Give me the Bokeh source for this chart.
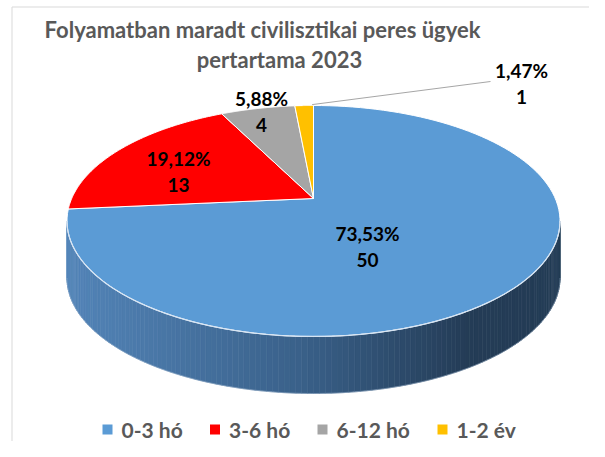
import numpy as np
from bokeh.plotting import figure
from bokeh.models import Range1d
from bokeh.core.properties import value
from bokeh.embed import file_html
from bokeh.resources import INLINE

# ---------------- data ----------------
categories = ["0-3 hó", "3-6 hó", "6-12 hó", "1-2 év"]
counts = [50, 13, 4, 1]
percent_labels = ["73,53%", "19,12%", "5,88%", "1,47%"]
colors = ["#5b9bd5", "#ff0000", "#a5a5a5", "#ffc000"]
title_lines = ["Folyamatban maradt civilisztikai peres ügyek", "pertartama 2023"]

# ---------------- layout ----------------
W, H = 589, 441
CX, CY = 313.0, 198.0          # projected pie centre (px)
A, B, K = 241.8, 111.1, 0.1948  # perspective ellipse parameters
DEPTH = 57.0
FONT = value("Lato")
label_pos = [(367, 233), (178, 158), (261, 98), (521, 70)]
LINE_GAP = 26
legend_x = [107, 214.5, 322, 442]
LEGEND_Y = 429
title_pos = [(262, 29), (279, 59)]


def proj(theta, r=1.0, dy=0.0):
    u = r * np.sin(theta)
    v = r * np.cos(theta)
    s = 1.0 / (1.0 + K * v)
    return CX + A * u * s, CY - B * v * s + dy


p = figure(width=W, height=H, output_backend="svg", toolbar_location=None,
           x_range=Range1d(0, W), y_range=Range1d(H, 0),
           min_border=0, outline_line_color=None)
p.axis.visible = False
p.grid.visible = False
p.background_fill_color = "white"
p.border_fill_color = "white"

# chart border (left and top visible)
p.line([11.5, 11.5, 605], [457, 6.5, 6.5], line_color="#d9d9d9", line_width=1)

# ---------------- side wall (front, gradient) ----------------
th_a = np.arccos(-K)
th_b = 2 * np.pi - np.arccos(-K)
N = 140
ths = np.linspace(th_a, th_b, N + 1)
stops_x = [60, 300, 470, 570]
stops_c = [(84, 134, 186), (58, 97, 138), (36, 60, 86), (36, 60, 86)]


def col_at(x):
    r = int(np.interp(x, stops_x, [c[0] for c in stops_c]))
    g = int(np.interp(x, stops_x, [c[1] for c in stops_c]))
    b = int(np.interp(x, stops_x, [c[2] for c in stops_c]))
    return "#%02x%02x%02x" % (r, g, b)


xs_s, ys_s, cs_s = [], [], []
for i in range(N):
    t0, t1 = ths[i], ths[i + 1]
    x0, y0 = proj(t0)
    x1, y1 = proj(t1)
    bx0, by0 = proj(t0, dy=DEPTH)
    bx1, by1 = proj(t1, dy=DEPTH)
    xs_s.append([x0, x1, bx1, bx0])
    ys_s.append([y0, y1, by1, by0])
    cs_s.append(col_at((x0 + x1) / 2))
p.patches(xs_s, ys_s, fill_color=cs_s, line_color=cs_s, line_width=0.6)

# bottom rim highlight
tb = np.linspace(th_a, th_b, 200)
bx, by = proj(tb, dy=DEPTH)
p.line(bx, by, line_color="#9fb6cf", line_width=0.8, line_alpha=0.6)

# ---------------- top face slices ----------------
total = float(sum(counts))
cum = np.concatenate([[0], np.cumsum(counts)]) / total * 2 * np.pi
xs_t, ys_t = [], []
for i in range(len(counts)):
    t = np.linspace(cum[i], cum[i + 1], 120)
    ax, ay = proj(t)
    xs_t.append([CX] + list(ax))
    ys_t.append([CY] + list(ay))
p.patches(xs_t, ys_t, fill_color=colors, line_color="white", line_width=1)

# front rim highlight
fx, fy = proj(tb)
p.line(fx, fy, line_color="#d6e4f3", line_width=1.2)

# ---------------- data labels ----------------
lx, ly1, ly2, t1, t2 = [], [], [], [], []
for i in range(len(counts)):
    x, y = label_pos[i]
    lx.append(x)
    ly1.append(y)
    ly2.append(y + LINE_GAP)
    t1.append(percent_labels[i])
    t2.append(str(counts[i]))
p.text(lx, ly1, text=t1, text_font=FONT, text_font_style="bold",
       text_font_size="19px", text_align="center", text_baseline="middle",
       text_color="black")
p.text(lx, ly2, text=t2, text_font=FONT, text_font_style="bold",
       text_font_size="19px", text_align="center", text_baseline="middle",
       text_color="black")

# leader line for the smallest slice
mid_small = (cum[-2] + cum[-1]) / 2
sx, sy = proj(mid_small)
p.line([sx + 8, 490], [sy - 1, 81], line_color="#a6a6a6", line_width=1)

# ---------------- title ----------------
p.text([t[0] for t in title_pos], [t[1] for t in title_pos], text=title_lines,
       text_font=FONT, text_font_style="bold", text_font_size="22px",
       text_align="center", text_baseline="middle", text_color="#595959")

# ---------------- legend ----------------
p.rect(legend_x, [LEGEND_Y] * 4, width=10, height=10, fill_color=colors,
       line_color=None)
p.text([x + 14 for x in legend_x], [LEGEND_Y] * 4, text=categories,
       text_font=FONT, text_font_style="bold", text_font_size="21px",
       text_align="left", text_baseline="middle", text_color="#595959")

open("out.html", "w").write(file_html(p, INLINE))
